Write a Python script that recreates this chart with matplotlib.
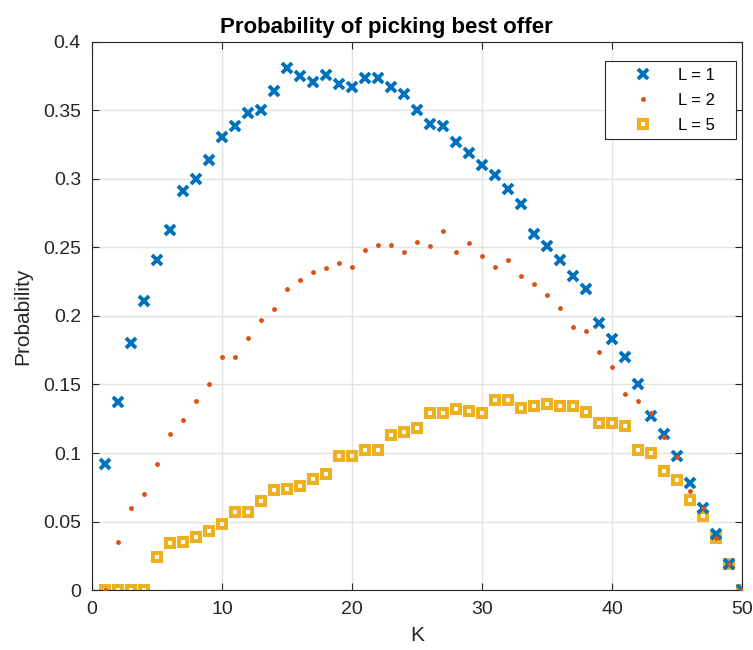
import matplotlib.pyplot as plt
import numpy as np

K = np.arange(1, 51)

prob_L1 = [0.092, 0.137, 0.180, 0.211, 0.241, 0.263, 0.291, 0.300, 0.314, 0.331,
           0.339, 0.348, 0.350, 0.364, 0.381, 0.375, 0.371, 0.376, 0.369, 0.367,
           0.374, 0.374, 0.367, 0.362, 0.350, 0.340, 0.339, 0.327, 0.319, 0.310,
           0.303, 0.293, 0.282, 0.260, 0.251, 0.241, 0.229, 0.220, 0.195, 0.183,
           0.170, 0.150, 0.127, 0.114, 0.098, 0.078, 0.060, 0.041, 0.019, 0.0]

prob_L2 = [0.0, 0.035, 0.060, 0.070, 0.092, 0.114, 0.124, 0.138, 0.150, 0.170,
           0.170, 0.184, 0.197, 0.205, 0.220, 0.226, 0.232, 0.235, 0.239, 0.236,
           0.248, 0.252, 0.252, 0.247, 0.254, 0.251, 0.262, 0.247, 0.253, 0.244,
           0.236, 0.241, 0.229, 0.223, 0.215, 0.206, 0.192, 0.189, 0.174, 0.163,
           0.143, 0.138, 0.129, 0.112, 0.097, 0.072, 0.060, 0.038, 0.019, 0.0]

prob_L5 = [0.0, 0.0, 0.0, 0.0, 0.024, 0.034, 0.035, 0.039, 0.043, 0.048,
           0.057, 0.057, 0.065, 0.073, 0.074, 0.076, 0.081, 0.085, 0.098, 0.098,
           0.102, 0.102, 0.113, 0.115, 0.118, 0.129, 0.129, 0.132, 0.131, 0.129,
           0.139, 0.139, 0.133, 0.134, 0.136, 0.134, 0.134, 0.130, 0.122, 0.122,
           0.120, 0.102, 0.100, 0.087, 0.080, 0.066, 0.054, 0.038, 0.019, 0.0]

labels = ['L = 1', 'L = 2', 'L = 5']

plt.rcParams['font.family'] = ['Liberation Sans', 'DejaVu Sans']

fig = plt.figure(figsize=(7.53, 6.5), dpi=100)
ax = fig.add_axes([0.1222, 0.0923, 0.8632, 0.8431])

# MATLAB default colour order
ax.plot(K, prob_L1, 'x', color='#0072BD', ms=6.5, mew=2.8, label=labels[0], zorder=3)
ax.plot(K, prob_L2, '.', color='#D95319', ms=5, label=labels[1], zorder=4)
ax.plot(K, prob_L5, 's', color='#EDB120', mfc='none', ms=6.3, mew=2.9, label=labels[2], zorder=2)

ax.set_xlim(0, 50)
ax.set_ylim(0, 0.4)
ax.set_xticks(range(0, 51, 10))
ax.set_yticks(np.arange(0, 0.41, 0.05))
ax.set_yticklabels(['0', '0.05', '0.1', '0.15', '0.2', '0.25', '0.3', '0.35', '0.4'])

ax.grid(True, color='#e3e3e3', linewidth=1)
ax.set_axisbelow(True)
ax.tick_params(direction='in', top=True, right=True, labelsize=14, colors='#262626',
               length=5, pad=8)
for s in ax.spines.values():
    s.set_color('#262626')
    s.set_linewidth(0.8)

ax.set_xlabel('K', fontsize=15, color='#262626', labelpad=6)
ax.set_ylabel('Probability', fontsize=15, color='#262626', labelpad=8)
fig.text(386.7 / 753, 1 - 32.5 / 650, 'Probability of picking best offer', fontsize=16,
         fontweight='bold', ha='center', va='baseline')

leg = ax.legend(loc='upper right', bbox_to_anchor=(0.9908, 0.9653), borderaxespad=0,
                fontsize=12, fancybox=False, framealpha=1, edgecolor='#262626',
                borderpad=0.4, handlelength=3.7, handletextpad=0.3, labelspacing=0.6)
for t in leg.get_texts():
    t.set_text(t.get_text() + '   ')
leg.get_frame().set_linewidth(0.8)

fig.savefig('out.png', dpi=100)
